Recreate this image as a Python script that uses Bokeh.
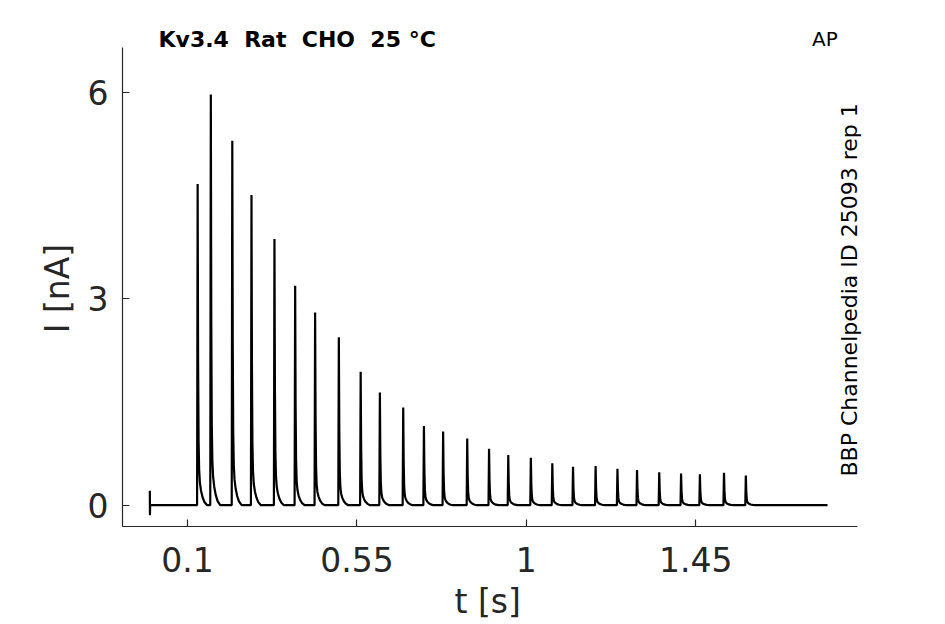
import math
from bokeh.plotting import figure
from bokeh.models import Range1d, FixedTicker, Label, ColumnDataSource
from bokeh.embed import file_html
from bokeh.resources import INLINE

# ---- data ----
spike_t = [0.127, 0.162, 0.219, 0.270, 0.331, 0.386, 0.439, 0.502, 0.560,
           0.611, 0.673, 0.728, 0.779, 0.843, 0.901, 0.952, 1.012, 1.069,
           1.124, 1.184, 1.242, 1.294, 1.353, 1.411, 1.461, 1.525, 1.583]
spike_peak = [4.67, 5.97, 5.30, 4.51, 3.87, 3.19, 2.80, 2.44, 1.94,
              1.64, 1.42, 1.15, 1.07, 0.97, 0.82, 0.73, 0.69, 0.61,
              0.56, 0.57, 0.53, 0.51, 0.48, 0.46, 0.45, 0.47, 0.43]
# shape of one current transient (time after peak in s, fraction of peak)
kernel_dt = [-0.0015, 0.0, 0.0012, 0.0025, 0.004, 0.006, 0.009, 0.013, 0.018, 0.025]
kernel_frac = [0.0, 1.0, 0.45, 0.2, 0.11, 0.07, 0.045, 0.025, 0.01, 0.0]
# capacitive artifact at protocol start, and end of recording
artifact_t = [0.0, 0.0003, 0.0008]
artifact_i = [0.21, -0.145, 0.0]
end_t = 1.8

x_ticks = [0.1, 0.55, 1.0, 1.45]
x_tick_labels = ["0.1", "0.55", "1", "1.45"]
y_ticks = [0, 3, 6]
y_tick_labels = ["0", "3", "6"]

NB = "\u00a0"
title_text = "Kv3.4" + NB * 2 + "Rat" + NB * 2 + "CHO" + NB * 2 + "25 \u00b0C"
protocol_text = "AP"
source_text = "BBP Channelpedia ID 25093 rep 1"
x_label = "t [s]"
y_label = "I [nA]"

# ---- build trace ----
t = list(artifact_t)
cur = list(artifact_i)
for ts, pk in zip(spike_t, spike_peak):
    for dt, fr in zip(kernel_dt, kernel_frac):
        t.append(ts + dt)
        cur.append(pk * fr)
t.append(end_t)
cur.append(0.0)
src = ColumnDataSource(data=dict(t=t, i=cur))

AX = "#262626"
FONT = "DejaVu Sans"

W, H = 940, 624
X0, X1 = -0.0726, 1.8796      # visible axis extent
Y0, Y1 = -0.3097, 6.654
PX_X = 376.5                  # px per s
PX_Y = 68.78                  # px per nA
frame_left, frame_bottom = 122, 526
frame_right = 863
frame_top = 8
x_hi = X0 + (frame_right - frame_left) / PX_X
y_hi = Y0 + (frame_bottom - frame_top) / PX_Y

p = figure(width=W, height=H, output_backend="svg", toolbar_location=None,
           x_range=Range1d(X0, x_hi), y_range=Range1d(Y0, y_hi),
           min_border_left=frame_left, min_border_right=W - frame_right,
           min_border_top=frame_top, min_border_bottom=H - frame_bottom)
p.outline_line_color = None
p.xgrid.visible = False
p.ygrid.visible = False
p.background_fill_color = "white"
p.border_fill_color = "white"

p.line("t", "i", source=src, line_color="black", line_width=2.2)

for ax, ticks, labels, bnds in ((p.xaxis[0], x_ticks, x_tick_labels, (X0, X1)),
                                (p.yaxis[0], y_ticks, y_tick_labels, (Y0, Y1))):
    ax.ticker = FixedTicker(ticks=ticks)
    ax.major_label_overrides = {tk: lb for tk, lb in zip(ticks, labels)}
    ax.bounds = bnds
    ax.axis_line_color = AX
    ax.axis_line_width = 1.2
    ax.major_tick_line_color = AX
    ax.major_tick_line_width = 1.2
    ax.major_tick_in = 7
    ax.major_tick_out = 0
    ax.minor_tick_line_color = None
    ax.major_label_text_font = FONT
    ax.major_label_text_font_size = "33px"
    ax.major_label_text_color = AX
    ax.axis_label_text_font = FONT
    ax.axis_label_text_font_size = "33px"
    ax.axis_label_text_font_style = "normal"
    ax.axis_label_text_color = AX
# trailing no-break spaces re-centre the labels on the drawn axis extent
p.xaxis[0].axis_label = x_label + NB
p.yaxis[0].axis_label = y_label + NB * 4
p.xaxis[0].major_label_standoff = 20
p.yaxis[0].major_label_standoff = 14
p.xaxis[0].axis_label_standoff = 7
p.yaxis[0].axis_label_standoff = 8

# header texts (inside the extended frame, above the axis extent)
p.add_layout(Label(x=0.023, y=6.768, text=title_text, text_align="left",
                   text_baseline="alphabetic", text_font=FONT,
                   text_font_size="22px", text_font_style="bold",
                   text_color="black"))
p.add_layout(Label(x=1.7587, y=6.778, text=protocol_text, text_align="left",
                   text_baseline="alphabetic", text_font=FONT,
                   text_font_size="20px", text_color="black"))
p.add_layout(Label(x=1.8588, y=0.417, text=source_text, angle=math.pi / 2,
                   text_align="left", text_baseline="alphabetic",
                   text_font=FONT, text_font_size="22px", text_color="black"))

open("out.html", "w").write(file_html(p, INLINE))
